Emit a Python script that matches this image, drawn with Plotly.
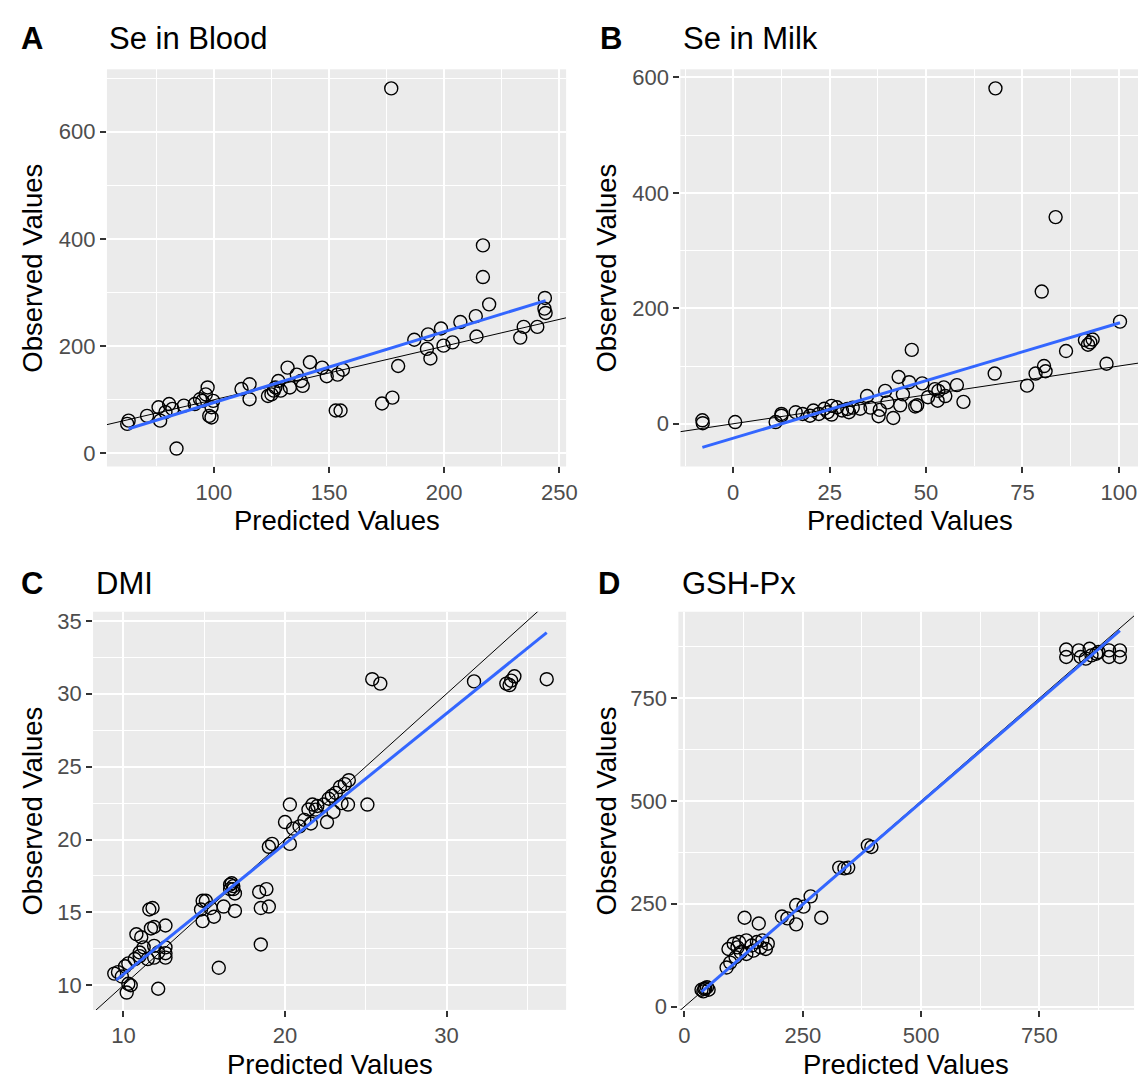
import plotly.graph_objects as go

W, H = 1146, 1085
FONT = "Liberation Sans, Arial, sans-serif"

# ---------------- data ----------------
# Panel A: Se in Blood
a_pred = [177, 216.8, 216.8, 219.5, 243.7, 243.5, 244, 213.7, 207, 198.6, 193, 187, 214, 203.6, 199.7,
          192.5, 194, 180, 233, 234.5, 240.4, 173, 177.5, 152.9, 155, 149, 153.7, 156, 147, 141.7, 132,
          136, 137.8, 138.6, 133, 128, 126.7, 125, 123.5, 129, 115.5, 112, 115.5, 96.5, 97.3, 94, 91.7,
          99, 98, 99, 83.8, 87, 82, 79, 76, 76.7, 71, 63, 62.4, 80.6, 95, 99.7, 126]
a_obs = [681, 388, 329, 278, 290, 270, 262, 256, 245, 233, 222, 212, 218, 207, 201,
         195, 177, 163, 216, 236, 236, 93, 104, 80, 80, 144, 147, 156, 160, 170, 160,
         147, 135, 126, 123, 135, 123, 110, 107, 117, 129, 120, 101, 110, 123, 101, 92,
         86, 70, 67, 9, 89, 83, 77, 86, 61, 70, 61, 55, 92, 98, 98, 117]
a_fit_x = [63, 244]
a_fit_y = [46, 285]

# Panel B: Se in Milk
b_pred = [68, 83.6, 80, 100.3, 91.2, 92.6, 93.2, 92, 86.3, 96.8, 80.6, 81, 78.4, 76.2, 67.8, 46.3, 58,
          59.7, 42.9, 45.6, 49, 52.3, 54.6, 55, 53, 47.7, 47.2, 43.3, 39.4, 40, 37.7, 41.5, 38, 34.7,
          31, 28.2, 25.5, 24.5, 22.2, 20.8, 18, 16.2, 12.5, 12.5, 32.9, 35.6, 30, 0.5, -8, -7.9, 11,
          50.5, 44, 53.2, 23.6, 26.9, 29.6, 19.9, 25.5]
b_obs = [581, 358, 229, 177, 145, 141, 146, 137, 126, 104, 100, 91, 87, 66, 87, 128, 67,
         38, 81, 72, 70, 60, 63, 48, 40, 32, 30, 32, 57, 37, 13, 10, 24, 48,
         28, 23, 31, 20, 17, 23, 17, 20, 14, 17, 26, 28, 20, 3, 6, 1, 3,
         46, 51, 57, 26, 28.5, 25.6, 14, 16]
b_fit_x = [-8, 100.3]
b_fit_y = [-41, 175]

# Panel C: DMI
c_pred = [36.2, 31.7, 33.7, 34.0, 34.2, 33.9, 25.4, 25.9, 25.1, 23.9, 23.95, 23.7, 23.4, 23.15, 22.9,
          22.7, 22.4, 22.0, 21.7, 21.45, 23.0, 22.6, 21.6, 21.2, 20.9, 20.3, 20.5, 20.0, 20.3, 19.2,
          19.0, 21.9, 23.5, 16.7, 16.8, 16.9, 16.6, 16.9, 18.4, 18.85, 18.5, 19.0, 18.5, 15.9, 14.9,
          15.1, 14.9, 15.6, 14.8, 15.4, 16.2, 11.6, 11.8, 10.8, 11.1, 11.7, 11.9, 12.6, 12.6, 12.6,
          12.6, 11.9, 12.15, 11.9, 11.25, 11.0, 12.15, 10.2, 10.3, 10.45, 9.43, 9.66, 10.1, 10.3,
          10.7, 11.0, 11.5, 9.9, 16.6, 16.8]
c_obs = [31.0, 30.85, 30.7, 30.9, 31.2, 30.6, 31.0, 30.7, 22.4, 22.4, 24.07, 23.8, 23.6, 23.2, 23.0,
         22.8, 22.4, 22.3, 22.4, 22.06, 21.9, 21.2, 21.1, 21.35, 20.9, 22.4, 20.75, 21.2, 19.7, 19.7,
         19.5, 22.05, 22.5, 17.0, 16.6, 16.3, 16.6, 15.1, 16.4, 16.6, 15.3, 15.4, 12.8, 11.2, 15.8,
         15.8, 14.4, 14.7, 15.2, 15.3, 15.4, 15.2, 15.3, 13.5, 13.3, 13.9, 14.0, 14.1, 12.6, 12.2,
         11.9, 12.7, 12.25, 11.9, 12.6, 12.25, 9.76, 9.5, 10.1, 10.0, 10.8, 10.9, 11.3, 11.5,
         11.8, 12.0, 11.8, 10.6, 16.9, 16.8]
c_fit_x = [9.55, 36.2]
c_fit_y = [10.35, 34.2]

# Panel D: GSH-Px
d_pred = [806.6, 806.6, 833, 837, 856, 860, 875, 897, 897, 920, 920, 848, 870,
          387.5, 395, 327, 338, 346, 266.6, 236, 251.5, 206, 217.5, 236, 289, 127, 157,
          93, 104, 115.5, 130.7, 142, 153, 164.6, 176, 161, 119, 130.7, 108, 96.7, 89, 145.8, 172, 112,
          36, 44, 47.6, 40, 51, 42]
d_obs = [868, 850, 866, 850, 870, 854, 862, 866, 850, 866, 850, 846, 858,
         392, 388, 338, 336, 338, 268, 247, 243, 219, 214.5, 200, 216, 216, 202,
         140, 153, 157, 161, 148.5, 157, 161, 153, 144, 132, 128, 120, 107, 95, 136, 140, 144,
         41, 45, 47, 37, 41, 43]
d_fit_x = [36, 920]
d_fit_y = [36, 914]

titles = ["Se in Blood", "Se in Milk", "DMI", "GSH-Px"]
letters = ["A", "B", "C", "D"]
x_title = "Predicted Values"
y_title = "Observed Values"

# ---------------- layout geometry (pixels) ----------------
panels = [
    dict(pred=a_pred, obs=a_obs, fx=a_fit_x, fy=a_fit_y, dom_x=(100, 564), dom_y=(58, 460),
         xr=[53.6, 252.9], yr=[-24.5, 716.6], xt=(100, 50), yt=(0, 200),
         letter_x=11, title_x=100, title_y=27, ytitle_x=25),
    dict(pred=b_pred, obs=b_obs, fx=b_fit_x, fy=b_fit_y, dom_x=(679.5, 1146), dom_y=(58, 460),
         xr=[-13.7, 106.0], yr=[-74, 614], xt=(0, 25), yt=(0, 200),
         letter_x=596, title_x=680, title_y=27, ytitle_x=605),
    dict(pred=c_pred, obs=c_obs, fx=c_fit_x, fy=c_fit_y, dom_x=(86, 564), dom_y=(607, 1010),
         xr=[8.12, 37.4], yr=[8.31, 35.63], xt=(10, 10), yt=(10, 5),
         letter_x=11, title_x=87, title_y=578, ytitle_x=25),
    dict(pred=d_pred, obs=d_obs, fx=d_fit_x, fy=d_fit_y, dom_x=(677.5, 1138), dom_y=(607, 1010),
         xr=[-12.8, 950], yr=[-8, 960], xt=(0, 250), yt=(0, 250),
         letter_x=594, title_x=679, title_y=578, ytitle_x=605),
]


def px(x):
    return x / W


def py(y):
    return 1 - y / H


fig = go.Figure()
annotations = []
layout_axes = {}

for i, p in enumerate(panels):
    n = i + 1
    xa = "x" if n == 1 else f"x{n}"
    ya = "y" if n == 1 else f"y{n}"
    xkey = "xaxis" if n == 1 else f"xaxis{n}"
    ykey = "yaxis" if n == 1 else f"yaxis{n}"

    fig.add_trace(go.Scatter(
        x=p["pred"], y=p["obs"], mode="markers", xaxis=xa, yaxis=ya, showlegend=False,
        marker=dict(symbol="circle-open", size=13, color="black", line=dict(width=1.4)),
        cliponaxis=True))
    # identity line y = x across the panel
    fig.add_trace(go.Scatter(
        x=p["xr"], y=p["xr"], mode="lines", xaxis=xa, yaxis=ya, showlegend=False,
        line=dict(color="black", width=1)))
    # fitted line
    fig.add_trace(go.Scatter(
        x=p["fx"], y=p["fy"], mode="lines", xaxis=xa, yaxis=ya, showlegend=False,
        line=dict(color="#3366FF", width=3)))

    common = dict(
        showline=False, zeroline=False, ticks="outside", ticklen=6, tickwidth=1.5,
        tickcolor="#333333", tickfont=dict(family=FONT, size=22, color="#4D4D4D"),
        showgrid=True, gridcolor="white", gridwidth=2.2, fixedrange=True,
    )
    layout_axes[xkey] = dict(
        common, domain=[px(p["dom_x"][0]), px(p["dom_x"][1])], range=p["xr"], anchor=ya,
        tickmode="linear", tick0=p["xt"][0], dtick=p["xt"][1],
        minor=dict(tick0=p["xt"][0], dtick=p["xt"][1] / 2, showgrid=True, gridcolor="white",
                   gridwidth=1.1, ticks=""))
    layout_axes[ykey] = dict(
        common, domain=[py(p["dom_y"][1]), py(p["dom_y"][0])], range=p["yr"], anchor=xa,
        tickmode="linear", tick0=p["yt"][0], dtick=p["yt"][1],
        minor=dict(tick0=p["yt"][0], dtick=p["yt"][1] / 2, showgrid=True, gridcolor="white",
                   gridwidth=1.1, ticks=""))

    # panel letter and title
    annotations.append(dict(text=f"<b>{letters[i]}</b>", x=px(p["letter_x"]), y=py(p["title_y"]),
                            xref="paper", yref="paper", xanchor="left", yanchor="middle",
                            showarrow=False, font=dict(family=FONT, size=31, color="black")))
    annotations.append(dict(text=titles[i], x=px(p["title_x"]), y=py(p["title_y"]),
                            xref="paper", yref="paper", xanchor="left", yanchor="middle",
                            showarrow=False, font=dict(family=FONT, size=31, color="black")))
    # axis titles
    cx = (p["dom_x"][0] + min(p["dom_x"][1], 1143)) / 2
    cy = (p["dom_y"][0] + p["dom_y"][1]) / 2
    annotations.append(dict(text=x_title, x=px(cx), y=py(p["dom_y"][1] + 55),
                            xref="paper", yref="paper", xanchor="center", yanchor="middle",
                            showarrow=False, font=dict(family=FONT, size=27.5, color="black")))
    annotations.append(dict(text=y_title, x=px(p["ytitle_x"]), y=py(cy), textangle=-90,
                            xref="paper", yref="paper", xanchor="center", yanchor="middle",
                            showarrow=False, font=dict(family=FONT, size=27.5, color="black")))

fig.update_layout(
    width=W, height=H, margin=dict(l=0, r=0, t=0, b=0),
    paper_bgcolor="white", plot_bgcolor="#EBEBEB",
    font=dict(family=FONT), annotations=annotations, showlegend=False,
    **layout_axes,
)

fig.write_html("out.html")
